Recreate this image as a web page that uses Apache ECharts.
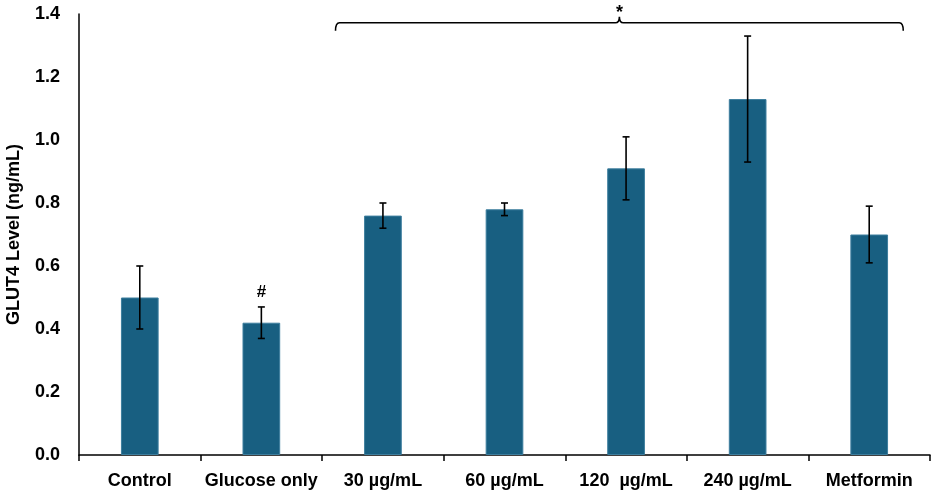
<!DOCTYPE html>
<html lang="en">
<head>
  <meta charset="UTF-8">
  <title>GLUT4 Level</title>
  <script src="https://cdn.jsdelivr.net/npm/echarts@6/dist/echarts.min.js"></script>
  <style>
    html, body { margin: 0; padding: 0; background: #fff; }
    #main { width: 935px; height: 497px; }
  </style>
</head>
<body>
  <div id="main"></div>

  <script>
  // chart data
  const categories = ['Control', 'Glucose only', '30 µg/mL', '60 µg/mL', '120  µg/mL', '240 µg/mL', 'Metformin'];
  const means = [0.50, 0.42, 0.76, 0.78, 0.91, 1.13, 0.70];
  const errors = [0.10, 0.05, 0.04, 0.02, 0.10, 0.20, 0.09];
  const marks = ['', '#', '', '', '', '', ''];
  const yTicks = [0, 0.2, 0.4, 0.6, 0.8, 1.0, 1.2, 1.4];
  // significance bracket: from category 2 to 6, drawn at this y level
  const bracket = [2, 6, 1.372];
  const bracketMark = '*';

  const font = '"Liberation Sans", Arial, sans-serif';
  const chart = echarts.init(document.getElementById('main'));

  const errData = means.map((m, i) => [i, m, errors[i], marks[i]]);

  chart.setOption({
    animation: false,
    grid: { left: 79, right: 5, top: 14, bottom: 42, containLabel: false, outerBoundsMode: 'none' },
    xAxis: {
      type: 'category',
      data: categories,
      axisLine: { lineStyle: { color: '#000', width: 1.5 } },
      axisTick: { show: true, length: 6, lineStyle: { color: '#000', width: 1.5 } },
      axisLabel: {
        color: '#000', fontWeight: 'bold', fontSize: 18, fontFamily: font,
        margin: 17, interval: 0
      }
    },
    yAxis: {
      type: 'value',
      min: yTicks[0],
      max: yTicks[yTicks.length - 1],
      interval: 0.2,
      name: 'GLUT4 Level (ng/mL)',
      nameLocation: 'middle',
      nameGap: 56,
      nameTextStyle: { color: '#000', fontWeight: 'bold', fontSize: 18, fontFamily: font },
      axisLine: { show: true, lineStyle: { color: '#000', width: 1.5 } },
      axisTick: { show: false },
      splitLine: { show: false },
      axisLabel: {
        color: '#000', fontWeight: 'bold', fontSize: 18, fontFamily: font, margin: 19,
        formatter: v => v.toFixed(1)
      }
    },
    series: [
      {
        type: 'bar',
        data: means,
        barWidth: '31%',
        itemStyle: { color: '#185f81', borderColor: '#3d7e9e', borderWidth: 1 }
      },
      {
        type: 'custom',
        z: 5,
        data: errData,
        renderItem: (params, api) => {
          const i = api.value(0), m = api.value(1), e = api.value(2);
          const top = api.coord([i, m + e]);
          const bot = api.coord([i, m - e]);
          const cap = 3.5;
          const style = { stroke: '#000', lineWidth: 1.6 };
          const children = [
            { type: 'line', shape: { x1: top[0], y1: top[1], x2: bot[0], y2: bot[1] }, style },
            { type: 'line', shape: { x1: top[0] - cap, y1: top[1], x2: top[0] + cap, y2: top[1] }, style },
            { type: 'line', shape: { x1: bot[0] - cap, y1: bot[1], x2: bot[0] + cap, y2: bot[1] }, style }
          ];
          const mark = marks[params.dataIndex];
          if (mark) {
            children.push({
              type: 'text',
              style: {
                text: mark, x: top[0], y: top[1] - 6, align: 'center', verticalAlign: 'bottom',
                fill: '#000', font: 'bold 17px ' + font
              }
            });
          }
          return { type: 'group', children };
        }
      },
      {
        type: 'custom',
        z: 5,
        clip: false,
        data: [bracket],
        renderItem: (params, api) => {
          const band = api.size([1, 0])[0];
          const p1 = api.coord([api.value(0), api.value(2)]);
          const p2 = api.coord([api.value(1), api.value(2)]);
          const x1 = p1[0] - 0.39 * band;
          const x2 = p2[0] + 0.28 * band;
          const y = p1[1];
          const mid = (x1 + x2) / 2;
          const d = `M${x1} ${y + 8} Q${x1} ${y} ${x1 + 4} ${y} L${mid - 4} ${y} Q${mid} ${y} ${mid} ${y - 6} ` +
                    `Q${mid} ${y} ${mid + 4} ${y} L${x2 - 4} ${y} Q${x2} ${y} ${x2} ${y + 8}`;
          return {
            type: 'group',
            children: [
              { type: 'path', shape: { pathData: d }, style: { stroke: '#000', lineWidth: 1.6, fill: null } },
              {
                type: 'text',
                style: {
                  text: bracketMark, x: mid, y: y - 1, align: 'center', verticalAlign: 'bottom',
                  fill: '#000', font: 'bold 18px ' + font
                }
              }
            ]
          };
        }
      }
    ]
  });
  </script>
</body>
</html>
